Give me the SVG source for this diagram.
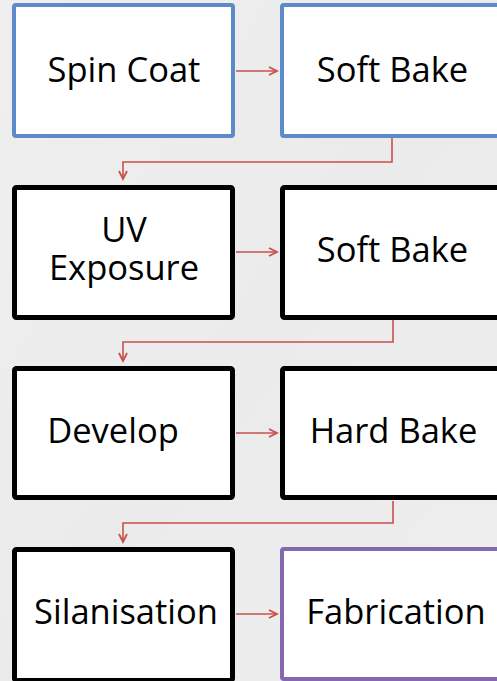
<svg xmlns="http://www.w3.org/2000/svg" width="497" height="681" viewBox="0 0 497 681">
  <defs>
    <linearGradient id="bg" x1="0" y1="0" x2="1" y2="1">
      <stop offset="0" stop-color="#efefef"/>
      <stop offset="0.5" stop-color="#ebebeb"/>
      <stop offset="1" stop-color="#eeeeee"/>
    </linearGradient>
    <marker id="arr" markerUnits="userSpaceOnUse" markerWidth="12" markerHeight="12" refX="9" refY="5" orient="auto">
      <path d="M1,1 L9,5 L1,9" fill="none" stroke="#c9504c" stroke-width="1.8" stroke-linejoin="miter"/>
    </marker>
    <style>
      .box { fill: #ffffff; }
      .blue { stroke: #5b8bc9; stroke-width: 4; }
      .black { stroke: #000000; stroke-width: 5; }
      .purple { stroke: #8568ad; stroke-width: 4; }
      .lbl { font-family: "Open Sans", "Noto Sans", sans-serif; font-size: 34.5px; fill: #000000; text-anchor: middle; }
      .con { fill: none; stroke: #c9504c; stroke-width: 1.6; marker-end: url(#arr); }
    </style>
  </defs>
  <rect x="0" y="0" width="497" height="681" fill="url(#bg)"/>

  <g id="connectors">
    <path class="con" d="M236 71 H277"/>
    <path class="con" d="M392 138 V162 H123 V179"/>
    <path class="con" d="M236 252 H277"/>
    <path class="con" d="M393 320 V342 H123 V361"/>
    <path class="con" d="M236 433 H277"/>
    <path class="con" d="M393 501 V523 H123 V542"/>
    <path class="con" d="M236 614 H277"/>
  </g>

  <g id="spin-coat">
    <rect class="box blue" x="14" y="5" width="219" height="131" rx="2"/>
    <text class="lbl" x="124" y="82">Spin Coat</text>
  </g>
  <g id="soft-bake-1">
    <rect class="box blue" x="282" y="5" width="225" height="131" rx="2"/>
    <text class="lbl" x="392.5" y="82">Soft Bake</text>
  </g>
  <g id="uv-exposure">
    <rect class="box black" x="14.5" y="187.5" width="218" height="130" rx="2"/>
    <text class="lbl" x="124" y="242"><tspan x="124" y="242">UV</tspan><tspan x="124" y="280">Exposure</tspan></text>
  </g>
  <g id="soft-bake-2">
    <rect class="box black" x="282.5" y="187.5" width="225" height="130" rx="2"/>
    <text class="lbl" x="392.5" y="262">Soft Bake</text>
  </g>
  <g id="develop">
    <rect class="box black" x="14.5" y="368.5" width="218" height="129" rx="2"/>
    <text class="lbl" x="113" y="443">Develop</text>
  </g>
  <g id="hard-bake">
    <rect class="box black" x="282.5" y="368.5" width="225" height="129" rx="2"/>
    <text class="lbl" x="393.5" y="443">Hard Bake</text>
  </g>
  <g id="silanisation">
    <rect class="box black" x="14.5" y="549.5" width="218" height="131" rx="2"/>
    <text class="lbl" x="126" y="624">Silanisation</text>
  </g>
  <g id="fabrication">
    <rect class="box purple" x="282" y="549" width="225" height="130" rx="2"/>
    <text class="lbl" x="396" y="624">Fabrication</text>
  </g>
</svg>
